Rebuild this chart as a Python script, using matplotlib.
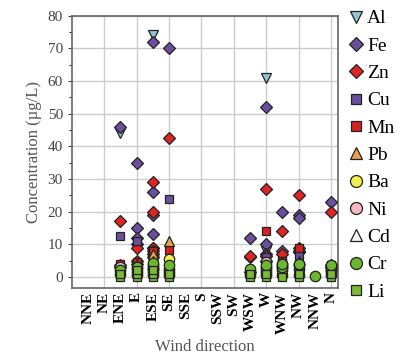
import matplotlib.pyplot as plt

plt.rcParams['font.family'] = ['Liberation Serif', 'DejaVu Serif']

directions = ["NNE", "NE", "ENE", "E", "ESE", "SE", "SSE", "S",
              "SSW", "SW", "WSW", "W", "WNW", "NW", "NNW", "N"]

# concentration (ug/L) per wind direction
al = {"ENE": [44, 1], "ESE": [74, 3], "W": [61, 8], "N": [1]}
fe = {"ENE": [46, 3.5], "E": [35, 15, 12, 10], "ESE": [72, 26, 19, 13, 9],
      "SE": [70], "WSW": [12, 6], "W": [52, 10, 7], "WNW": [20, 8],
      "NW": [19, 18, 7.5], "N": [23, 3]}
zn = {"ENE": [17, 3], "E": [9, 5, 4], "ESE": [29, 20, 9, 8, 7, 6],
      "SE": [42.5], "WSW": [6.5, 1.5], "W": [27, 6.5, 5], "WNW": [14, 7],
      "NW": [25, 9, 8], "N": [20, 3.5]}
cu = {"ENE": [12.5, 2.5], "E": [11], "ESE": [8, 5], "SE": [24], "W": [6],
      "WNW": [5], "NW": [6.5], "N": [3]}
mn = {"ENE": [4], "E": [4.5], "ESE": [8], "SE": [8.3], "W": [14],
      "WNW": [5], "NW": [9], "N": [3.5]}
pb = {"ENE": [3], "E": [4], "ESE": [7, 5, 4], "SE": [11], "W": [4],
      "WNW": [4.5], "NW": [5], "N": [2.5]}
ba = {"ESE": [3], "SE": [5.5], "W": [3], "WNW": [4], "NW": [4]}
ni = {"ENE": [3], "ESE": [2.5], "W": [4.5], "WNW": [3], "N": [2]}
cd = {"ESE": [2], "W": [3], "NW": [3]}
cr = {"ENE": [1, 2], "E": [0.5, 1.5, 2.5, 3], "ESE": [0.5, 1.5, 2.5, 3.5, 4.3],
      "SE": [0.5, 1.5, 2.5, 3.5], "WSW": [0.5, 1.5, 2.5],
      "W": [0.5, 1.5, 2.5, 3.5], "WNW": [0.5, 2, 3, 4], "NW": [0.5, 2.5, 3.5, 4],
      "NNW": [0.3], "N": [0.5, 1.5, 2.5, 3.5]}
li = {"ENE": [0, 1], "E": [0, 1, 2], "ESE": [0, 1, 2], "SE": [0, 1],
      "WSW": [0, 1], "W": [0, 1], "WNW": [0], "NW": [0, 1], "N": [0, 1]}

series = [
    ("Al", al, "v", "#8fc6d6"),
    ("Fe", fe, "D", "#6b4f9e"),
    ("Zn", zn, "D", "#e02424"),
    ("Cu", cu, "s", "#6b4f9e"),
    ("Mn", mn, "s", "#d82020"),
    ("Pb", pb, "^", "#e9a24a"),
    ("Ba", ba, "o", "#f2f04a"),
    ("Ni", ni, "o", "#f6b9c4"),
    ("Cd", cd, "^", "#f4f4f4"),
    ("Cr", cr, "o", "#6cb82c"),
    ("Li", li, "s", "#7cba34"),
]
sizes = {"v": 7.5, "D": 6.5, "s": 6, "^": 7, "o": 7.5}

fig = plt.figure(figsize=(4.06, 3.6), dpi=100)
ax = fig.add_axes([0.177, 0.2, 0.656, 0.756])

for name, d, mk, col in series:
    xs, ys = [], []
    for k, vals in d.items():
        for v in vals:
            xs.append(directions.index(k))
            ys.append(v)
    ax.plot(xs, ys, linestyle="none", marker=mk, markersize=sizes[mk],
            markerfacecolor=col, markeredgecolor="#222222",
            markeredgewidth=0.9, label=name, zorder=3)

ax.set_xlim(-1, 15.45)
ax.set_ylim(-3.4, 80)
ax.set_xticks(range(len(directions)))
ax.set_xticklabels(directions, rotation=90, fontsize=11, fontweight="bold")
ax.set_yticks(range(0, 81, 10))
ax.set_yticks(range(5, 80, 10), minor=True)
ax.tick_params(axis="y", labelsize=11, colors="#444444", length=3)
ax.tick_params(axis="y", which="minor", length=2)
ax.tick_params(axis="x", length=0, pad=3)
for i in range(1, len(directions), 2):
    ax.axvline(i, color="#cccccc", linewidth=1, zorder=0)
ax.grid(axis="y", color="#cccccc", linewidth=1, zorder=0)
for sp in ax.spines.values():
    sp.set_color("#666666")
    sp.set_linewidth(1.2)

ax.set_ylabel("Concentration (\u00b5g/L)", fontsize=12, color="#555555")
ax.set_xlabel("Wind direction", fontsize=12, color="#555555", labelpad=4)

ax.legend(loc="upper left", bbox_to_anchor=(0.985, 1.065), frameon=False,
          fontsize=14, handletextpad=0.1, labelspacing=0.5,
          borderaxespad=0.2, handlelength=1.0, markerscale=1.15)

fig.savefig("out.png", dpi=100)
